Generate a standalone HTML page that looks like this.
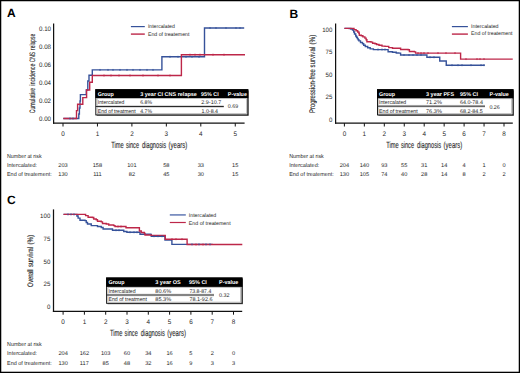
<!DOCTYPE html><html><head><meta charset="utf-8"><title>Figure</title><style>html,body{margin:0;padding:0;background:#fff;overflow:hidden;}svg{display:block;}text{font-family:"Liberation Sans",sans-serif;text-rendering:geometricPrecision;}</style></head><body>
<svg width="520" height="373" viewBox="0 0 520 373">
<rect x="0" y="0" width="520" height="373" fill="#fff"/>
<text x="7.00" y="17.40" font-size="12" font-weight="bold" fill="#000">A</text>
<line x1="53.60" y1="23.50" x2="53.60" y2="123.75" stroke="#111" stroke-width="1.25"/>
<line x1="53.00" y1="123.10" x2="244.60" y2="123.10" stroke="#111" stroke-width="1.35"/>
<line x1="63.00" y1="123.10" x2="63.00" y2="126.50" stroke="#111" stroke-width="1.0"/>
<line x1="97.45" y1="123.10" x2="97.45" y2="126.50" stroke="#111" stroke-width="1.0"/>
<line x1="131.90" y1="123.10" x2="131.90" y2="126.50" stroke="#111" stroke-width="1.0"/>
<line x1="166.35" y1="123.10" x2="166.35" y2="126.50" stroke="#111" stroke-width="1.0"/>
<line x1="200.80" y1="123.10" x2="200.80" y2="126.50" stroke="#111" stroke-width="1.0"/>
<line x1="235.25" y1="123.10" x2="235.25" y2="126.50" stroke="#111" stroke-width="1.0"/>
<text x="51.00" y="120.90" font-size="6.5" text-anchor="end" textLength="12.00" lengthAdjust="spacingAndGlyphs" fill="#262626">0.00</text>
<text x="51.00" y="102.91" font-size="6.5" text-anchor="end" textLength="12.00" lengthAdjust="spacingAndGlyphs" fill="#262626">0.02</text>
<text x="51.00" y="84.92" font-size="6.5" text-anchor="end" textLength="12.00" lengthAdjust="spacingAndGlyphs" fill="#262626">0.04</text>
<text x="51.00" y="66.93" font-size="6.5" text-anchor="end" textLength="12.00" lengthAdjust="spacingAndGlyphs" fill="#262626">0.06</text>
<text x="51.00" y="48.94" font-size="6.5" text-anchor="end" textLength="12.00" lengthAdjust="spacingAndGlyphs" fill="#262626">0.08</text>
<text x="51.00" y="30.95" font-size="6.5" text-anchor="end" textLength="12.00" lengthAdjust="spacingAndGlyphs" fill="#262626">0.10</text>
<text x="63.00" y="135.90" font-size="6.7" text-anchor="middle" textLength="3.54" lengthAdjust="spacingAndGlyphs" fill="#262626">0</text>
<text x="97.45" y="135.90" font-size="6.7" text-anchor="middle" textLength="3.54" lengthAdjust="spacingAndGlyphs" fill="#262626">1</text>
<text x="131.90" y="135.90" font-size="6.7" text-anchor="middle" textLength="3.54" lengthAdjust="spacingAndGlyphs" fill="#262626">2</text>
<text x="166.35" y="135.90" font-size="6.7" text-anchor="middle" textLength="3.54" lengthAdjust="spacingAndGlyphs" fill="#262626">3</text>
<text x="200.80" y="135.90" font-size="6.7" text-anchor="middle" textLength="3.54" lengthAdjust="spacingAndGlyphs" fill="#262626">4</text>
<text x="235.25" y="135.90" font-size="6.7" text-anchor="middle" textLength="3.54" lengthAdjust="spacingAndGlyphs" fill="#262626">5</text>
<text transform="rotate(-90)" x="-113.30" y="34.80" font-size="7.9" textLength="25.50" lengthAdjust="spacingAndGlyphs" fill="#262626" stroke="#262626" stroke-width="0.12">Cumulative</text>
<text transform="rotate(-90)" x="-85.50" y="34.80" font-size="7.9" textLength="21.75" lengthAdjust="spacingAndGlyphs" fill="#262626" stroke="#262626" stroke-width="0.12">incidence</text>
<text transform="rotate(-90)" x="-62.30" y="34.80" font-size="7.9" textLength="10.30" lengthAdjust="spacingAndGlyphs" fill="#262626" stroke="#262626" stroke-width="0.12">CNS</text>
<text transform="rotate(-90)" x="-49.90" y="34.80" font-size="7.9" textLength="16.10" lengthAdjust="spacingAndGlyphs" fill="#262626" stroke="#262626" stroke-width="0.12">relapse</text>
<text x="111.20" y="148.00" font-size="9.0" textLength="12.50" lengthAdjust="spacingAndGlyphs" fill="#262626" stroke="#262626" stroke-width="0.12">Time</text>
<text x="125.90" y="148.00" font-size="9.0" textLength="13.20" lengthAdjust="spacingAndGlyphs" fill="#262626" stroke="#262626" stroke-width="0.12">since</text>
<text x="142.10" y="148.00" font-size="9.0" textLength="24.00" lengthAdjust="spacingAndGlyphs" fill="#262626" stroke="#262626" stroke-width="0.12">diagnosis</text>
<text x="168.60" y="148.00" font-size="9.0" textLength="18.60" lengthAdjust="spacingAndGlyphs" fill="#262626" stroke="#262626" stroke-width="0.12">(years)</text>
<line x1="130.90" y1="26.60" x2="144.80" y2="26.60" stroke="#36529a" stroke-width="1.2"/>
<line x1="130.90" y1="34.10" x2="144.80" y2="34.10" stroke="#bd2749" stroke-width="1.4"/>
<text x="147.90" y="28.31" font-size="5.3" textLength="26.90" lengthAdjust="spacingAndGlyphs" fill="#262626">Intercalated</text>
<text x="147.90" y="36.01" font-size="5.3" textLength="41.60" lengthAdjust="spacingAndGlyphs" fill="#262626">End of treatement</text>
<polyline points="63.30,118.50 78.80,118.50 78.80,114.00 79.40,114.00 79.40,108.00 80.00,108.00 80.00,101.00 80.40,101.00 80.40,94.60 86.30,94.60 86.30,90.00 87.80,90.00 87.80,81.00 89.00,81.00 89.00,75.30 92.30,75.30 92.30,69.90 161.90,69.90 161.90,56.80 204.50,56.80 204.50,28.00 244.20,28.00" fill="none" stroke="#36529a" stroke-width="1.4" stroke-linejoin="miter"/>
<polyline points="63.30,118.50 76.50,118.50 76.50,110.60 77.60,110.60 77.60,104.30 82.80,104.30 82.80,97.60 86.60,97.60 86.60,90.00 89.70,90.00 89.70,82.20 92.30,82.20 92.30,75.50 181.40,75.50 181.40,54.70 245.00,54.70" fill="none" stroke="#bd2749" stroke-width="1.4" stroke-linejoin="miter"/>
<rect x="99.50" y="68.95" width="1.0" height="1.9" fill="#36529a"/>
<rect x="107.50" y="68.95" width="1.0" height="1.9" fill="#36529a"/>
<rect x="112.50" y="68.95" width="1.0" height="1.9" fill="#36529a"/>
<rect x="119.50" y="68.95" width="1.0" height="1.9" fill="#36529a"/>
<rect x="126.50" y="68.95" width="1.0" height="1.9" fill="#36529a"/>
<rect x="132.50" y="68.95" width="1.0" height="1.9" fill="#36529a"/>
<rect x="139.50" y="68.95" width="1.0" height="1.9" fill="#36529a"/>
<rect x="146.50" y="68.95" width="1.0" height="1.9" fill="#36529a"/>
<rect x="152.50" y="68.95" width="1.0" height="1.9" fill="#36529a"/>
<rect x="169.50" y="55.85" width="1.0" height="1.9" fill="#36529a"/>
<rect x="177.50" y="55.85" width="1.0" height="1.9" fill="#36529a"/>
<rect x="185.50" y="55.85" width="1.0" height="1.9" fill="#36529a"/>
<rect x="191.50" y="55.85" width="1.0" height="1.9" fill="#36529a"/>
<rect x="198.50" y="55.85" width="1.0" height="1.9" fill="#36529a"/>
<rect x="209.50" y="27.05" width="1.0" height="1.9" fill="#36529a"/>
<rect x="215.50" y="27.05" width="1.0" height="1.9" fill="#36529a"/>
<rect x="225.50" y="27.05" width="1.0" height="1.9" fill="#36529a"/>
<rect x="235.50" y="27.05" width="1.0" height="1.9" fill="#36529a"/>
<rect x="239.50" y="27.05" width="1.0" height="1.9" fill="#36529a"/>
<rect x="69.50" y="117.55" width="1.0" height="1.9" fill="#36529a"/>
<rect x="72.50" y="117.55" width="1.0" height="1.9" fill="#36529a"/>
<rect x="103.50" y="74.55" width="1.0" height="1.9" fill="#bd2749"/>
<rect x="110.50" y="74.55" width="1.0" height="1.9" fill="#bd2749"/>
<rect x="118.50" y="74.55" width="1.0" height="1.9" fill="#bd2749"/>
<rect x="129.50" y="74.55" width="1.0" height="1.9" fill="#bd2749"/>
<rect x="142.50" y="74.55" width="1.0" height="1.9" fill="#bd2749"/>
<rect x="157.50" y="74.55" width="1.0" height="1.9" fill="#bd2749"/>
<rect x="169.50" y="74.55" width="1.0" height="1.9" fill="#bd2749"/>
<rect x="189.50" y="53.75" width="1.0" height="1.9" fill="#bd2749"/>
<rect x="194.50" y="53.75" width="1.0" height="1.9" fill="#bd2749"/>
<rect x="199.50" y="53.75" width="1.0" height="1.9" fill="#bd2749"/>
<rect x="212.50" y="53.75" width="1.0" height="1.9" fill="#bd2749"/>
<rect x="223.50" y="53.75" width="1.0" height="1.9" fill="#bd2749"/>
<rect x="96.70" y="90.50" width="152.00" height="25.30" fill="#555"/>
<rect x="95.80" y="89.60" width="152.00" height="25.30" fill="#fff" stroke="#1a1a1a" stroke-width="1"/>
<rect x="95.30" y="89.30" width="153.00" height="8.80" fill="#000"/>
<rect x="97.10" y="98.50" width="149.40" height="15.20" fill="none" stroke="#a0a0a0" stroke-width="0.6"/>
<line x1="97.10" y1="105.70" x2="223.80" y2="105.70" stroke="#b0b0b0" stroke-width="0.6"/>
<line x1="97.10" y1="107.30" x2="223.80" y2="107.30" stroke="#b0b0b0" stroke-width="0.6"/>
<line x1="95.80" y1="106.50" x2="223.80" y2="106.50" stroke="#2a2a2a" stroke-width="1.0"/>
<text x="97.80" y="95.83" font-size="5.5" font-weight="bold" textLength="16.00" lengthAdjust="spacingAndGlyphs" fill="#fff">Group</text>
<text x="140.20" y="95.83" font-size="5.5" font-weight="bold" textLength="56.70" lengthAdjust="spacingAndGlyphs" fill="#fff">3 year CI CNS relapse</text>
<text x="201.00" y="95.83" font-size="5.5" font-weight="bold" textLength="17.70" lengthAdjust="spacingAndGlyphs" fill="#fff">95% CI</text>
<text x="227.80" y="95.83" font-size="5.5" font-weight="bold" textLength="19.10" lengthAdjust="spacingAndGlyphs" fill="#fff">P-value</text>
<text x="97.80" y="104.28" font-size="5.5" textLength="26.60" lengthAdjust="spacingAndGlyphs" fill="#262626">Intercalated</text>
<text x="140.20" y="104.28" font-size="5.5" textLength="11.80" lengthAdjust="spacingAndGlyphs" fill="#262626">6.8%</text>
<text x="201.30" y="104.28" font-size="5.5" textLength="20.00" lengthAdjust="spacingAndGlyphs" fill="#262626">2.9-10.7</text>
<text x="97.80" y="112.68" font-size="5.5" textLength="37.80" lengthAdjust="spacingAndGlyphs" fill="#262626">End of treatment</text>
<text x="140.20" y="112.68" font-size="5.5" textLength="11.80" lengthAdjust="spacingAndGlyphs" fill="#262626">4.7%</text>
<text x="201.50" y="112.68" font-size="5.5" textLength="16.50" lengthAdjust="spacingAndGlyphs" fill="#262626">1.0-8.4</text>
<text x="227.80" y="108.48" font-size="5.5" textLength="10.40" lengthAdjust="spacingAndGlyphs" fill="#262626">0.69</text>
<text x="7.00" y="158.10" font-size="5.7" textLength="34.60" lengthAdjust="spacingAndGlyphs" fill="#262626">Number at risk</text>
<text x="7.00" y="166.85" font-size="5.7" textLength="30.00" lengthAdjust="spacingAndGlyphs" fill="#262626">Intercalated:</text>
<text x="7.00" y="175.65" font-size="5.7" textLength="44.70" lengthAdjust="spacingAndGlyphs" fill="#262626">End of treatement:</text>
<text x="63.00" y="166.85" font-size="5.5" text-anchor="middle" textLength="9.45" lengthAdjust="spacingAndGlyphs" fill="#262626">203</text>
<text x="63.00" y="175.65" font-size="5.5" text-anchor="middle" textLength="9.45" lengthAdjust="spacingAndGlyphs" fill="#262626">130</text>
<text x="97.45" y="166.85" font-size="5.5" text-anchor="middle" textLength="9.45" lengthAdjust="spacingAndGlyphs" fill="#262626">158</text>
<text x="97.45" y="175.65" font-size="5.5" text-anchor="middle" textLength="8.61" lengthAdjust="spacingAndGlyphs" fill="#262626">111</text>
<text x="131.90" y="166.85" font-size="5.5" text-anchor="middle" textLength="9.45" lengthAdjust="spacingAndGlyphs" fill="#262626">101</text>
<text x="131.90" y="175.65" font-size="5.5" text-anchor="middle" textLength="6.30" lengthAdjust="spacingAndGlyphs" fill="#262626">82</text>
<text x="166.35" y="166.85" font-size="5.5" text-anchor="middle" textLength="6.30" lengthAdjust="spacingAndGlyphs" fill="#262626">58</text>
<text x="166.35" y="175.65" font-size="5.5" text-anchor="middle" textLength="6.30" lengthAdjust="spacingAndGlyphs" fill="#262626">45</text>
<text x="200.80" y="166.85" font-size="5.5" text-anchor="middle" textLength="6.30" lengthAdjust="spacingAndGlyphs" fill="#262626">33</text>
<text x="200.80" y="175.65" font-size="5.5" text-anchor="middle" textLength="6.30" lengthAdjust="spacingAndGlyphs" fill="#262626">30</text>
<text x="235.25" y="166.85" font-size="5.5" text-anchor="middle" textLength="6.30" lengthAdjust="spacingAndGlyphs" fill="#262626">15</text>
<text x="235.25" y="175.65" font-size="5.5" text-anchor="middle" textLength="6.30" lengthAdjust="spacingAndGlyphs" fill="#262626">15</text>
<text x="289.50" y="17.50" font-size="12" font-weight="bold" fill="#000">B</text>
<line x1="335.60" y1="23.50" x2="335.60" y2="123.75" stroke="#111" stroke-width="1.25"/>
<line x1="335.00" y1="123.10" x2="512.80" y2="123.10" stroke="#111" stroke-width="1.35"/>
<line x1="344.40" y1="123.10" x2="344.40" y2="126.50" stroke="#111" stroke-width="1.0"/>
<line x1="364.35" y1="123.10" x2="364.35" y2="126.50" stroke="#111" stroke-width="1.0"/>
<line x1="384.30" y1="123.10" x2="384.30" y2="126.50" stroke="#111" stroke-width="1.0"/>
<line x1="404.25" y1="123.10" x2="404.25" y2="126.50" stroke="#111" stroke-width="1.0"/>
<line x1="424.20" y1="123.10" x2="424.20" y2="126.50" stroke="#111" stroke-width="1.0"/>
<line x1="444.15" y1="123.10" x2="444.15" y2="126.50" stroke="#111" stroke-width="1.0"/>
<line x1="464.10" y1="123.10" x2="464.10" y2="126.50" stroke="#111" stroke-width="1.0"/>
<line x1="484.05" y1="123.10" x2="484.05" y2="126.50" stroke="#111" stroke-width="1.0"/>
<line x1="504.00" y1="123.10" x2="504.00" y2="126.50" stroke="#111" stroke-width="1.0"/>
<text x="332.40" y="121.60" font-size="6.3" text-anchor="end" textLength="3.40" lengthAdjust="spacingAndGlyphs" fill="#262626">0</text>
<text x="332.40" y="99.10" font-size="6.3" text-anchor="end" textLength="6.80" lengthAdjust="spacingAndGlyphs" fill="#262626">25</text>
<text x="332.40" y="76.60" font-size="6.3" text-anchor="end" textLength="6.80" lengthAdjust="spacingAndGlyphs" fill="#262626">50</text>
<text x="332.40" y="54.10" font-size="6.3" text-anchor="end" textLength="6.80" lengthAdjust="spacingAndGlyphs" fill="#262626">75</text>
<text x="332.40" y="31.60" font-size="6.3" text-anchor="end" textLength="10.20" lengthAdjust="spacingAndGlyphs" fill="#262626">100</text>
<text x="344.40" y="135.90" font-size="6.7" text-anchor="middle" textLength="3.54" lengthAdjust="spacingAndGlyphs" fill="#262626">0</text>
<text x="364.35" y="135.90" font-size="6.7" text-anchor="middle" textLength="3.54" lengthAdjust="spacingAndGlyphs" fill="#262626">1</text>
<text x="384.30" y="135.90" font-size="6.7" text-anchor="middle" textLength="3.54" lengthAdjust="spacingAndGlyphs" fill="#262626">2</text>
<text x="404.25" y="135.90" font-size="6.7" text-anchor="middle" textLength="3.54" lengthAdjust="spacingAndGlyphs" fill="#262626">3</text>
<text x="424.20" y="135.90" font-size="6.7" text-anchor="middle" textLength="3.54" lengthAdjust="spacingAndGlyphs" fill="#262626">4</text>
<text x="444.15" y="135.90" font-size="6.7" text-anchor="middle" textLength="3.54" lengthAdjust="spacingAndGlyphs" fill="#262626">5</text>
<text x="464.10" y="135.90" font-size="6.7" text-anchor="middle" textLength="3.54" lengthAdjust="spacingAndGlyphs" fill="#262626">6</text>
<text x="484.05" y="135.90" font-size="6.7" text-anchor="middle" textLength="3.54" lengthAdjust="spacingAndGlyphs" fill="#262626">7</text>
<text x="504.00" y="135.90" font-size="6.7" text-anchor="middle" textLength="3.54" lengthAdjust="spacingAndGlyphs" fill="#262626">8</text>
<text transform="rotate(-90)" x="-112.90" y="315.00" font-size="8.2" textLength="43.80" lengthAdjust="spacingAndGlyphs" fill="#262626" stroke="#262626" stroke-width="0.12">Progression-free</text>
<text transform="rotate(-90)" x="-67.40" y="315.00" font-size="8.2" textLength="20.50" lengthAdjust="spacingAndGlyphs" fill="#262626" stroke="#262626" stroke-width="0.12">survival</text>
<text transform="rotate(-90)" x="-44.50" y="315.00" font-size="8.2" textLength="9.90" lengthAdjust="spacingAndGlyphs" fill="#262626" stroke="#262626" stroke-width="0.12">(%)</text>
<text x="386.20" y="147.80" font-size="9.0" textLength="12.50" lengthAdjust="spacingAndGlyphs" fill="#262626" stroke="#262626" stroke-width="0.12">Time</text>
<text x="400.90" y="147.80" font-size="9.0" textLength="13.20" lengthAdjust="spacingAndGlyphs" fill="#262626" stroke="#262626" stroke-width="0.12">since</text>
<text x="417.10" y="147.80" font-size="9.0" textLength="24.00" lengthAdjust="spacingAndGlyphs" fill="#262626" stroke="#262626" stroke-width="0.12">diagnosis</text>
<text x="443.60" y="147.80" font-size="9.0" textLength="18.60" lengthAdjust="spacingAndGlyphs" fill="#262626" stroke="#262626" stroke-width="0.12">(years)</text>
<line x1="451.90" y1="26.60" x2="467.90" y2="26.60" stroke="#36529a" stroke-width="1.2"/>
<line x1="451.90" y1="34.10" x2="467.90" y2="34.10" stroke="#bd2749" stroke-width="1.4"/>
<text x="471.00" y="27.91" font-size="5.3" textLength="27.50" lengthAdjust="spacingAndGlyphs" fill="#262626">Intercalated</text>
<text x="471.00" y="35.41" font-size="5.3" textLength="41.50" lengthAdjust="spacingAndGlyphs" fill="#262626">End of treatement</text>
<polyline points="344.40,28.40 349.20,28.40 349.20,28.50 350.80,28.50 350.80,29.00 352.50,29.00 352.50,30.00 353.70,30.00 353.70,32.00 354.50,32.00 354.50,34.00 355.70,34.00 355.70,36.00 356.50,36.00 356.50,37.20 357.30,37.20 357.30,38.50 358.10,38.50 358.10,39.70 358.90,39.70 358.90,40.90 360.50,40.90 360.50,42.50 362.50,42.50 362.50,43.70 363.70,43.70 363.70,45.30 365.30,45.30 365.30,46.50 367.70,46.50 367.70,47.70 370.20,47.70 370.20,48.90 373.40,48.90 373.40,49.60 388.10,49.60 388.10,51.75 392.50,51.75 392.50,52.25 396.25,52.25 396.25,53.00 398.75,53.00 398.75,53.10 400.60,53.10 400.60,55.00 426.25,55.00 426.90,55.00 426.90,57.25 439.40,57.25 439.75,57.25 439.75,61.00 446.00,61.00 446.25,61.00 446.25,65.20 484.75,65.20" fill="none" stroke="#36529a" stroke-width="1.4" stroke-linejoin="miter"/>
<polyline points="344.40,28.40 351.60,28.40 354.00,28.40 354.00,29.60 356.10,29.60 356.10,30.80 357.70,30.80 357.70,32.00 358.90,32.00 358.90,33.30 359.30,33.30 359.30,35.30 361.30,35.30 361.30,35.70 362.90,35.70 362.90,36.90 364.90,36.90 364.90,38.10 366.10,38.10 366.10,39.70 366.90,39.70 366.90,41.70 369.40,41.70 371.00,41.70 371.00,42.10 372.60,42.10 372.60,43.30 375.00,43.30 375.00,43.70 376.60,43.70 376.60,44.50 379.00,44.50 379.00,45.30 382.00,45.30 382.00,46.10 385.00,46.10 385.00,46.40 388.75,46.40 388.75,47.60 392.50,47.60 392.50,48.25 397.50,48.25 399.40,48.25 399.40,48.30 400.60,48.30 400.60,49.50 408.10,49.50 408.10,49.75 409.40,49.75 409.40,51.50 414.40,51.50 414.40,51.90 415.60,51.90 415.60,53.10 460.60,53.10 460.60,59.10 512.75,59.10" fill="none" stroke="#bd2749" stroke-width="1.4" stroke-linejoin="miter"/>
<rect x="377.50" y="48.55" width="1.0" height="1.9" fill="#36529a"/>
<rect x="381.50" y="48.55" width="1.0" height="1.9" fill="#36529a"/>
<rect x="384.50" y="48.55" width="1.0" height="1.9" fill="#36529a"/>
<rect x="403.50" y="54.05" width="1.0" height="1.9" fill="#36529a"/>
<rect x="408.50" y="54.05" width="1.0" height="1.9" fill="#36529a"/>
<rect x="412.50" y="54.05" width="1.0" height="1.9" fill="#36529a"/>
<rect x="416.50" y="54.05" width="1.0" height="1.9" fill="#36529a"/>
<rect x="420.50" y="54.05" width="1.0" height="1.9" fill="#36529a"/>
<rect x="429.50" y="56.30" width="1.0" height="1.9" fill="#36529a"/>
<rect x="433.50" y="56.30" width="1.0" height="1.9" fill="#36529a"/>
<rect x="451.50" y="64.25" width="1.0" height="1.9" fill="#36529a"/>
<rect x="457.50" y="64.25" width="1.0" height="1.9" fill="#36529a"/>
<rect x="461.50" y="64.25" width="1.0" height="1.9" fill="#36529a"/>
<rect x="470.50" y="64.25" width="1.0" height="1.9" fill="#36529a"/>
<rect x="480.50" y="64.25" width="1.0" height="1.9" fill="#36529a"/>
<rect x="483.50" y="64.25" width="1.0" height="1.9" fill="#36529a"/>
<rect x="417.50" y="52.15" width="1.0" height="1.9" fill="#bd2749"/>
<rect x="420.50" y="52.15" width="1.0" height="1.9" fill="#bd2749"/>
<rect x="423.50" y="52.15" width="1.0" height="1.9" fill="#bd2749"/>
<rect x="427.50" y="52.15" width="1.0" height="1.9" fill="#bd2749"/>
<rect x="437.50" y="52.15" width="1.0" height="1.9" fill="#bd2749"/>
<rect x="445.50" y="52.15" width="1.0" height="1.9" fill="#bd2749"/>
<rect x="454.50" y="52.15" width="1.0" height="1.9" fill="#bd2749"/>
<rect x="465.50" y="58.15" width="1.0" height="1.9" fill="#bd2749"/>
<rect x="476.50" y="58.15" width="1.0" height="1.9" fill="#bd2749"/>
<rect x="479.50" y="58.15" width="1.0" height="1.9" fill="#bd2749"/>
<rect x="483.50" y="58.15" width="1.0" height="1.9" fill="#bd2749"/>
<rect x="378.40" y="90.50" width="135.50" height="25.30" fill="#555"/>
<rect x="377.50" y="89.60" width="135.50" height="25.30" fill="#fff" stroke="#1a1a1a" stroke-width="1"/>
<rect x="377.00" y="89.30" width="136.50" height="9.10" fill="#000"/>
<rect x="378.80" y="98.80" width="132.90" height="14.90" fill="none" stroke="#a0a0a0" stroke-width="0.6"/>
<line x1="378.80" y1="105.40" x2="485.00" y2="105.40" stroke="#b0b0b0" stroke-width="0.6"/>
<line x1="378.80" y1="107.00" x2="485.00" y2="107.00" stroke="#b0b0b0" stroke-width="0.6"/>
<line x1="377.50" y1="106.20" x2="485.00" y2="106.20" stroke="#2a2a2a" stroke-width="1.0"/>
<text x="379.00" y="95.98" font-size="5.5" font-weight="bold" textLength="16.00" lengthAdjust="spacingAndGlyphs" fill="#fff">Group</text>
<text x="426.00" y="95.98" font-size="5.5" font-weight="bold" textLength="28.10" lengthAdjust="spacingAndGlyphs" fill="#fff">3 year PFS</text>
<text x="460.00" y="95.98" font-size="5.5" font-weight="bold" textLength="18.10" lengthAdjust="spacingAndGlyphs" fill="#fff">95% CI</text>
<text x="489.60" y="95.98" font-size="5.5" font-weight="bold" textLength="19.20" lengthAdjust="spacingAndGlyphs" fill="#fff">P-value</text>
<text x="379.00" y="104.28" font-size="5.5" textLength="27.20" lengthAdjust="spacingAndGlyphs" fill="#262626">Intercalated</text>
<text x="426.00" y="104.28" font-size="5.5" textLength="15.90" lengthAdjust="spacingAndGlyphs" fill="#262626">71.2%</text>
<text x="460.00" y="104.28" font-size="5.5" textLength="22.90" lengthAdjust="spacingAndGlyphs" fill="#262626">64.0-78.4</text>
<text x="379.00" y="112.53" font-size="5.5" textLength="38.70" lengthAdjust="spacingAndGlyphs" fill="#262626">End of treatment</text>
<text x="426.00" y="112.53" font-size="5.5" textLength="15.90" lengthAdjust="spacingAndGlyphs" fill="#262626">76.3%</text>
<text x="460.00" y="112.53" font-size="5.5" textLength="22.75" lengthAdjust="spacingAndGlyphs" fill="#262626">68.2-84.5</text>
<text x="489.40" y="108.63" font-size="5.5" textLength="10.40" lengthAdjust="spacingAndGlyphs" fill="#262626">0.26</text>
<text x="289.20" y="158.10" font-size="5.7" textLength="34.60" lengthAdjust="spacingAndGlyphs" fill="#262626">Number at risk</text>
<text x="289.20" y="166.85" font-size="5.7" textLength="30.00" lengthAdjust="spacingAndGlyphs" fill="#262626">Intercalated:</text>
<text x="289.20" y="175.65" font-size="5.7" textLength="44.70" lengthAdjust="spacingAndGlyphs" fill="#262626">End of treatement:</text>
<text x="344.40" y="166.85" font-size="5.5" text-anchor="middle" textLength="9.45" lengthAdjust="spacingAndGlyphs" fill="#262626">204</text>
<text x="344.40" y="175.65" font-size="5.5" text-anchor="middle" textLength="9.45" lengthAdjust="spacingAndGlyphs" fill="#262626">130</text>
<text x="364.35" y="166.85" font-size="5.5" text-anchor="middle" textLength="9.45" lengthAdjust="spacingAndGlyphs" fill="#262626">140</text>
<text x="364.35" y="175.65" font-size="5.5" text-anchor="middle" textLength="9.45" lengthAdjust="spacingAndGlyphs" fill="#262626">105</text>
<text x="384.30" y="166.85" font-size="5.5" text-anchor="middle" textLength="6.30" lengthAdjust="spacingAndGlyphs" fill="#262626">93</text>
<text x="384.30" y="175.65" font-size="5.5" text-anchor="middle" textLength="6.30" lengthAdjust="spacingAndGlyphs" fill="#262626">74</text>
<text x="404.25" y="166.85" font-size="5.5" text-anchor="middle" textLength="6.30" lengthAdjust="spacingAndGlyphs" fill="#262626">55</text>
<text x="404.25" y="175.65" font-size="5.5" text-anchor="middle" textLength="6.30" lengthAdjust="spacingAndGlyphs" fill="#262626">40</text>
<text x="424.20" y="166.85" font-size="5.5" text-anchor="middle" textLength="6.30" lengthAdjust="spacingAndGlyphs" fill="#262626">31</text>
<text x="424.20" y="175.65" font-size="5.5" text-anchor="middle" textLength="6.30" lengthAdjust="spacingAndGlyphs" fill="#262626">28</text>
<text x="444.15" y="166.85" font-size="5.5" text-anchor="middle" textLength="6.30" lengthAdjust="spacingAndGlyphs" fill="#262626">14</text>
<text x="444.15" y="175.65" font-size="5.5" text-anchor="middle" textLength="6.30" lengthAdjust="spacingAndGlyphs" fill="#262626">14</text>
<text x="464.10" y="166.85" font-size="5.5" text-anchor="middle" textLength="3.15" lengthAdjust="spacingAndGlyphs" fill="#262626">4</text>
<text x="464.10" y="175.65" font-size="5.5" text-anchor="middle" textLength="3.15" lengthAdjust="spacingAndGlyphs" fill="#262626">8</text>
<text x="484.05" y="166.85" font-size="5.5" text-anchor="middle" textLength="3.15" lengthAdjust="spacingAndGlyphs" fill="#262626">1</text>
<text x="484.05" y="175.65" font-size="5.5" text-anchor="middle" textLength="3.15" lengthAdjust="spacingAndGlyphs" fill="#262626">2</text>
<text x="504.00" y="166.85" font-size="5.5" text-anchor="middle" textLength="3.15" lengthAdjust="spacingAndGlyphs" fill="#262626">0</text>
<text x="504.00" y="175.65" font-size="5.5" text-anchor="middle" textLength="3.15" lengthAdjust="spacingAndGlyphs" fill="#262626">2</text>
<text x="7.00" y="203.50" font-size="12" font-weight="bold" fill="#000">C</text>
<line x1="53.50" y1="209.40" x2="53.50" y2="311.95" stroke="#111" stroke-width="1.25"/>
<line x1="52.90" y1="311.30" x2="242.20" y2="311.30" stroke="#111" stroke-width="1.35"/>
<line x1="63.10" y1="311.30" x2="63.10" y2="314.70" stroke="#111" stroke-width="1.0"/>
<line x1="84.40" y1="311.30" x2="84.40" y2="314.70" stroke="#111" stroke-width="1.0"/>
<line x1="105.70" y1="311.30" x2="105.70" y2="314.70" stroke="#111" stroke-width="1.0"/>
<line x1="127.00" y1="311.30" x2="127.00" y2="314.70" stroke="#111" stroke-width="1.0"/>
<line x1="148.30" y1="311.30" x2="148.30" y2="314.70" stroke="#111" stroke-width="1.0"/>
<line x1="169.60" y1="311.30" x2="169.60" y2="314.70" stroke="#111" stroke-width="1.0"/>
<line x1="190.90" y1="311.30" x2="190.90" y2="314.70" stroke="#111" stroke-width="1.0"/>
<line x1="212.20" y1="311.30" x2="212.20" y2="314.70" stroke="#111" stroke-width="1.0"/>
<line x1="233.50" y1="311.30" x2="233.50" y2="314.70" stroke="#111" stroke-width="1.0"/>
<text x="50.30" y="309.10" font-size="6.3" text-anchor="end" textLength="3.40" lengthAdjust="spacingAndGlyphs" fill="#262626">0</text>
<text x="50.30" y="286.30" font-size="6.3" text-anchor="end" textLength="6.80" lengthAdjust="spacingAndGlyphs" fill="#262626">25</text>
<text x="50.30" y="263.50" font-size="6.3" text-anchor="end" textLength="6.80" lengthAdjust="spacingAndGlyphs" fill="#262626">50</text>
<text x="50.30" y="240.70" font-size="6.3" text-anchor="end" textLength="6.80" lengthAdjust="spacingAndGlyphs" fill="#262626">75</text>
<text x="50.30" y="217.90" font-size="6.3" text-anchor="end" textLength="10.20" lengthAdjust="spacingAndGlyphs" fill="#262626">100</text>
<text x="63.10" y="323.90" font-size="6.7" text-anchor="middle" textLength="3.54" lengthAdjust="spacingAndGlyphs" fill="#262626">0</text>
<text x="84.40" y="323.90" font-size="6.7" text-anchor="middle" textLength="3.54" lengthAdjust="spacingAndGlyphs" fill="#262626">1</text>
<text x="105.70" y="323.90" font-size="6.7" text-anchor="middle" textLength="3.54" lengthAdjust="spacingAndGlyphs" fill="#262626">2</text>
<text x="127.00" y="323.90" font-size="6.7" text-anchor="middle" textLength="3.54" lengthAdjust="spacingAndGlyphs" fill="#262626">3</text>
<text x="148.30" y="323.90" font-size="6.7" text-anchor="middle" textLength="3.54" lengthAdjust="spacingAndGlyphs" fill="#262626">4</text>
<text x="169.60" y="323.90" font-size="6.7" text-anchor="middle" textLength="3.54" lengthAdjust="spacingAndGlyphs" fill="#262626">5</text>
<text x="190.90" y="323.90" font-size="6.7" text-anchor="middle" textLength="3.54" lengthAdjust="spacingAndGlyphs" fill="#262626">6</text>
<text x="212.20" y="323.90" font-size="6.7" text-anchor="middle" textLength="3.54" lengthAdjust="spacingAndGlyphs" fill="#262626">7</text>
<text x="233.50" y="323.90" font-size="6.7" text-anchor="middle" textLength="3.54" lengthAdjust="spacingAndGlyphs" fill="#262626">8</text>
<text transform="rotate(-90)" x="-287.00" y="33.30" font-size="8.0" textLength="17.60" lengthAdjust="spacingAndGlyphs" fill="#262626" stroke="#262626" stroke-width="0.12">Overall</text>
<text transform="rotate(-90)" x="-267.00" y="33.30" font-size="8.0" textLength="20.10" lengthAdjust="spacingAndGlyphs" fill="#262626" stroke="#262626" stroke-width="0.12">survival</text>
<text transform="rotate(-90)" x="-244.50" y="33.30" font-size="8.0" textLength="9.70" lengthAdjust="spacingAndGlyphs" fill="#262626" stroke="#262626" stroke-width="0.12">(%)</text>
<text x="109.90" y="336.30" font-size="9.0" textLength="12.50" lengthAdjust="spacingAndGlyphs" fill="#262626" stroke="#262626" stroke-width="0.12">Time</text>
<text x="124.60" y="336.30" font-size="9.0" textLength="13.20" lengthAdjust="spacingAndGlyphs" fill="#262626" stroke="#262626" stroke-width="0.12">since</text>
<text x="140.80" y="336.30" font-size="9.0" textLength="24.00" lengthAdjust="spacingAndGlyphs" fill="#262626" stroke="#262626" stroke-width="0.12">diagnosis</text>
<text x="167.30" y="336.30" font-size="9.0" textLength="18.60" lengthAdjust="spacingAndGlyphs" fill="#262626" stroke="#262626" stroke-width="0.12">(years)</text>
<line x1="169.80" y1="214.90" x2="185.80" y2="214.90" stroke="#7b8fc0" stroke-width="1.8"/>
<line x1="169.80" y1="222.50" x2="185.80" y2="222.50" stroke="#bd2749" stroke-width="1.2"/>
<text x="188.80" y="216.91" font-size="5.3" textLength="27.40" lengthAdjust="spacingAndGlyphs" fill="#262626">Intercalated</text>
<text x="188.80" y="224.51" font-size="5.3" textLength="41.90" lengthAdjust="spacingAndGlyphs" fill="#262626">End of treatement</text>
<polyline points="63.50,214.40 75.00,214.40 76.90,214.40 76.90,216.00 78.10,216.00 78.10,218.10 80.00,218.10 80.00,220.25 85.00,220.25 85.00,220.60 86.25,220.60 86.25,222.50 87.50,222.50 87.50,224.00 91.25,224.00 91.25,225.60 97.50,225.60 97.50,226.50 101.25,226.50 101.25,227.50 103.10,227.50 103.10,229.00 108.75,229.00 112.50,229.00 112.50,230.25 121.90,230.25 123.75,230.25 123.75,231.50 126.90,231.50 126.90,232.25 139.40,232.25 140.00,232.25 140.00,234.20 150.60,234.20 150.60,234.40 151.25,234.40 151.25,236.25 165.00,236.25 165.00,240.00 171.25,240.00 171.90,240.00 171.90,244.40 212.70,244.40" fill="none" stroke="#36529a" stroke-width="1.4" stroke-linejoin="miter"/>
<polyline points="63.50,214.40 83.75,214.40 85.60,214.40 85.60,215.60 88.10,215.60 88.10,217.25 92.50,217.25 92.50,217.50 93.75,217.50 93.75,219.00 96.25,219.00 96.25,219.75 97.50,219.75 97.50,221.25 101.25,221.25 101.25,221.90 102.50,221.90 102.50,223.50 106.25,223.50 106.25,224.00 108.75,224.00 108.75,225.00 113.75,225.00 113.75,225.60 115.00,225.60 115.00,226.50 125.00,226.50 126.00,226.50 126.00,227.75 138.10,227.75 139.40,227.75 139.40,231.00 141.25,231.00 141.25,232.50 144.40,232.50 144.40,233.50 145.00,233.50 145.00,235.00 151.25,235.00 151.25,235.40 165.00,235.40 165.25,235.40 165.25,239.20 187.10,239.20 187.10,244.50 242.30,244.50" fill="none" stroke="#bd2749" stroke-width="1.4" stroke-linejoin="miter"/>
<rect x="67.50" y="213.45" width="1.0" height="1.9" fill="#36529a"/>
<rect x="70.50" y="213.45" width="1.0" height="1.9" fill="#36529a"/>
<rect x="73.50" y="213.45" width="1.0" height="1.9" fill="#36529a"/>
<rect x="115.50" y="229.30" width="1.0" height="1.9" fill="#36529a"/>
<rect x="118.50" y="229.30" width="1.0" height="1.9" fill="#36529a"/>
<rect x="129.50" y="231.30" width="1.0" height="1.9" fill="#36529a"/>
<rect x="133.50" y="231.30" width="1.0" height="1.9" fill="#36529a"/>
<rect x="136.50" y="231.30" width="1.0" height="1.9" fill="#36529a"/>
<rect x="153.50" y="235.30" width="1.0" height="1.9" fill="#36529a"/>
<rect x="157.50" y="235.30" width="1.0" height="1.9" fill="#36529a"/>
<rect x="161.50" y="235.30" width="1.0" height="1.9" fill="#36529a"/>
<rect x="191.50" y="243.45" width="1.0" height="1.9" fill="#36529a"/>
<rect x="198.50" y="243.45" width="1.0" height="1.9" fill="#36529a"/>
<rect x="205.50" y="243.45" width="1.0" height="1.9" fill="#36529a"/>
<rect x="209.50" y="243.45" width="1.0" height="1.9" fill="#36529a"/>
<rect x="117.50" y="225.55" width="1.0" height="1.9" fill="#bd2749"/>
<rect x="120.50" y="225.55" width="1.0" height="1.9" fill="#bd2749"/>
<rect x="171.50" y="238.25" width="1.0" height="1.9" fill="#bd2749"/>
<rect x="175.50" y="238.25" width="1.0" height="1.9" fill="#bd2749"/>
<rect x="181.50" y="238.25" width="1.0" height="1.9" fill="#bd2749"/>
<rect x="195.50" y="243.55" width="1.0" height="1.9" fill="#bd2749"/>
<rect x="202.50" y="243.55" width="1.0" height="1.9" fill="#bd2749"/>
<rect x="107.50" y="278.80" width="135.40" height="25.40" fill="#555"/>
<rect x="106.60" y="277.90" width="135.40" height="25.40" fill="#fff" stroke="#1a1a1a" stroke-width="1"/>
<rect x="106.10" y="277.60" width="136.40" height="9.30" fill="#000"/>
<rect x="107.90" y="287.30" width="132.80" height="14.80" fill="none" stroke="#a0a0a0" stroke-width="0.6"/>
<line x1="107.90" y1="294.20" x2="214.00" y2="294.20" stroke="#b0b0b0" stroke-width="0.6"/>
<line x1="107.90" y1="295.80" x2="214.00" y2="295.80" stroke="#b0b0b0" stroke-width="0.6"/>
<line x1="106.60" y1="295.00" x2="214.00" y2="295.00" stroke="#2a2a2a" stroke-width="1.0"/>
<text x="108.50" y="284.38" font-size="5.5" font-weight="bold" textLength="16.00" lengthAdjust="spacingAndGlyphs" fill="#fff">Group</text>
<text x="155.25" y="284.38" font-size="5.5" font-weight="bold" textLength="25.40" lengthAdjust="spacingAndGlyphs" fill="#fff">3 year OS</text>
<text x="189.00" y="284.38" font-size="5.5" font-weight="bold" textLength="17.90" lengthAdjust="spacingAndGlyphs" fill="#fff">95% CI</text>
<text x="219.10" y="284.38" font-size="5.5" font-weight="bold" textLength="19.20" lengthAdjust="spacingAndGlyphs" fill="#fff">P-value</text>
<text x="108.50" y="292.93" font-size="5.5" textLength="27.10" lengthAdjust="spacingAndGlyphs" fill="#262626">Intercalated</text>
<text x="155.25" y="292.93" font-size="5.5" textLength="16.00" lengthAdjust="spacingAndGlyphs" fill="#262626">80.6%</text>
<text x="189.40" y="292.93" font-size="5.5" textLength="21.90" lengthAdjust="spacingAndGlyphs" fill="#262626">73.8-87.4</text>
<text x="108.50" y="301.13" font-size="5.5" textLength="38.40" lengthAdjust="spacingAndGlyphs" fill="#262626">End of treatment</text>
<text x="155.25" y="301.13" font-size="5.5" textLength="16.00" lengthAdjust="spacingAndGlyphs" fill="#262626">85.3%</text>
<text x="189.40" y="301.13" font-size="5.5" textLength="23.10" lengthAdjust="spacingAndGlyphs" fill="#262626">78.1-92.6</text>
<text x="219.10" y="297.08" font-size="5.5" textLength="10.40" lengthAdjust="spacingAndGlyphs" fill="#262626">0.32</text>
<text x="7.10" y="345.90" font-size="5.7" textLength="34.60" lengthAdjust="spacingAndGlyphs" fill="#262626">Number at risk</text>
<text x="7.10" y="355.10" font-size="5.7" textLength="30.00" lengthAdjust="spacingAndGlyphs" fill="#262626">Intercalated:</text>
<text x="7.10" y="364.50" font-size="5.7" textLength="44.70" lengthAdjust="spacingAndGlyphs" fill="#262626">End of treatement:</text>
<text x="63.10" y="355.10" font-size="5.5" text-anchor="middle" textLength="9.45" lengthAdjust="spacingAndGlyphs" fill="#262626">204</text>
<text x="63.10" y="364.50" font-size="5.5" text-anchor="middle" textLength="9.45" lengthAdjust="spacingAndGlyphs" fill="#262626">130</text>
<text x="84.40" y="355.10" font-size="5.5" text-anchor="middle" textLength="9.45" lengthAdjust="spacingAndGlyphs" fill="#262626">162</text>
<text x="84.40" y="364.50" font-size="5.5" text-anchor="middle" textLength="9.03" lengthAdjust="spacingAndGlyphs" fill="#262626">117</text>
<text x="105.70" y="355.10" font-size="5.5" text-anchor="middle" textLength="9.45" lengthAdjust="spacingAndGlyphs" fill="#262626">103</text>
<text x="105.70" y="364.50" font-size="5.5" text-anchor="middle" textLength="6.30" lengthAdjust="spacingAndGlyphs" fill="#262626">85</text>
<text x="127.00" y="355.10" font-size="5.5" text-anchor="middle" textLength="6.30" lengthAdjust="spacingAndGlyphs" fill="#262626">60</text>
<text x="127.00" y="364.50" font-size="5.5" text-anchor="middle" textLength="6.30" lengthAdjust="spacingAndGlyphs" fill="#262626">48</text>
<text x="148.30" y="355.10" font-size="5.5" text-anchor="middle" textLength="6.30" lengthAdjust="spacingAndGlyphs" fill="#262626">34</text>
<text x="148.30" y="364.50" font-size="5.5" text-anchor="middle" textLength="6.30" lengthAdjust="spacingAndGlyphs" fill="#262626">32</text>
<text x="169.60" y="355.10" font-size="5.5" text-anchor="middle" textLength="6.30" lengthAdjust="spacingAndGlyphs" fill="#262626">16</text>
<text x="169.60" y="364.50" font-size="5.5" text-anchor="middle" textLength="6.30" lengthAdjust="spacingAndGlyphs" fill="#262626">16</text>
<text x="190.90" y="355.10" font-size="5.5" text-anchor="middle" textLength="3.15" lengthAdjust="spacingAndGlyphs" fill="#262626">5</text>
<text x="190.90" y="364.50" font-size="5.5" text-anchor="middle" textLength="3.15" lengthAdjust="spacingAndGlyphs" fill="#262626">9</text>
<text x="212.20" y="355.10" font-size="5.5" text-anchor="middle" textLength="3.15" lengthAdjust="spacingAndGlyphs" fill="#262626">2</text>
<text x="212.20" y="364.50" font-size="5.5" text-anchor="middle" textLength="3.15" lengthAdjust="spacingAndGlyphs" fill="#262626">3</text>
<text x="233.50" y="355.10" font-size="5.5" text-anchor="middle" textLength="3.15" lengthAdjust="spacingAndGlyphs" fill="#262626">0</text>
<text x="233.50" y="364.50" font-size="5.5" text-anchor="middle" textLength="3.15" lengthAdjust="spacingAndGlyphs" fill="#262626">3</text>
<rect x="0.62" y="0.6" width="518.76" height="371.76" fill="none" stroke="#000" stroke-width="1.3"/>
</svg></body></html>
